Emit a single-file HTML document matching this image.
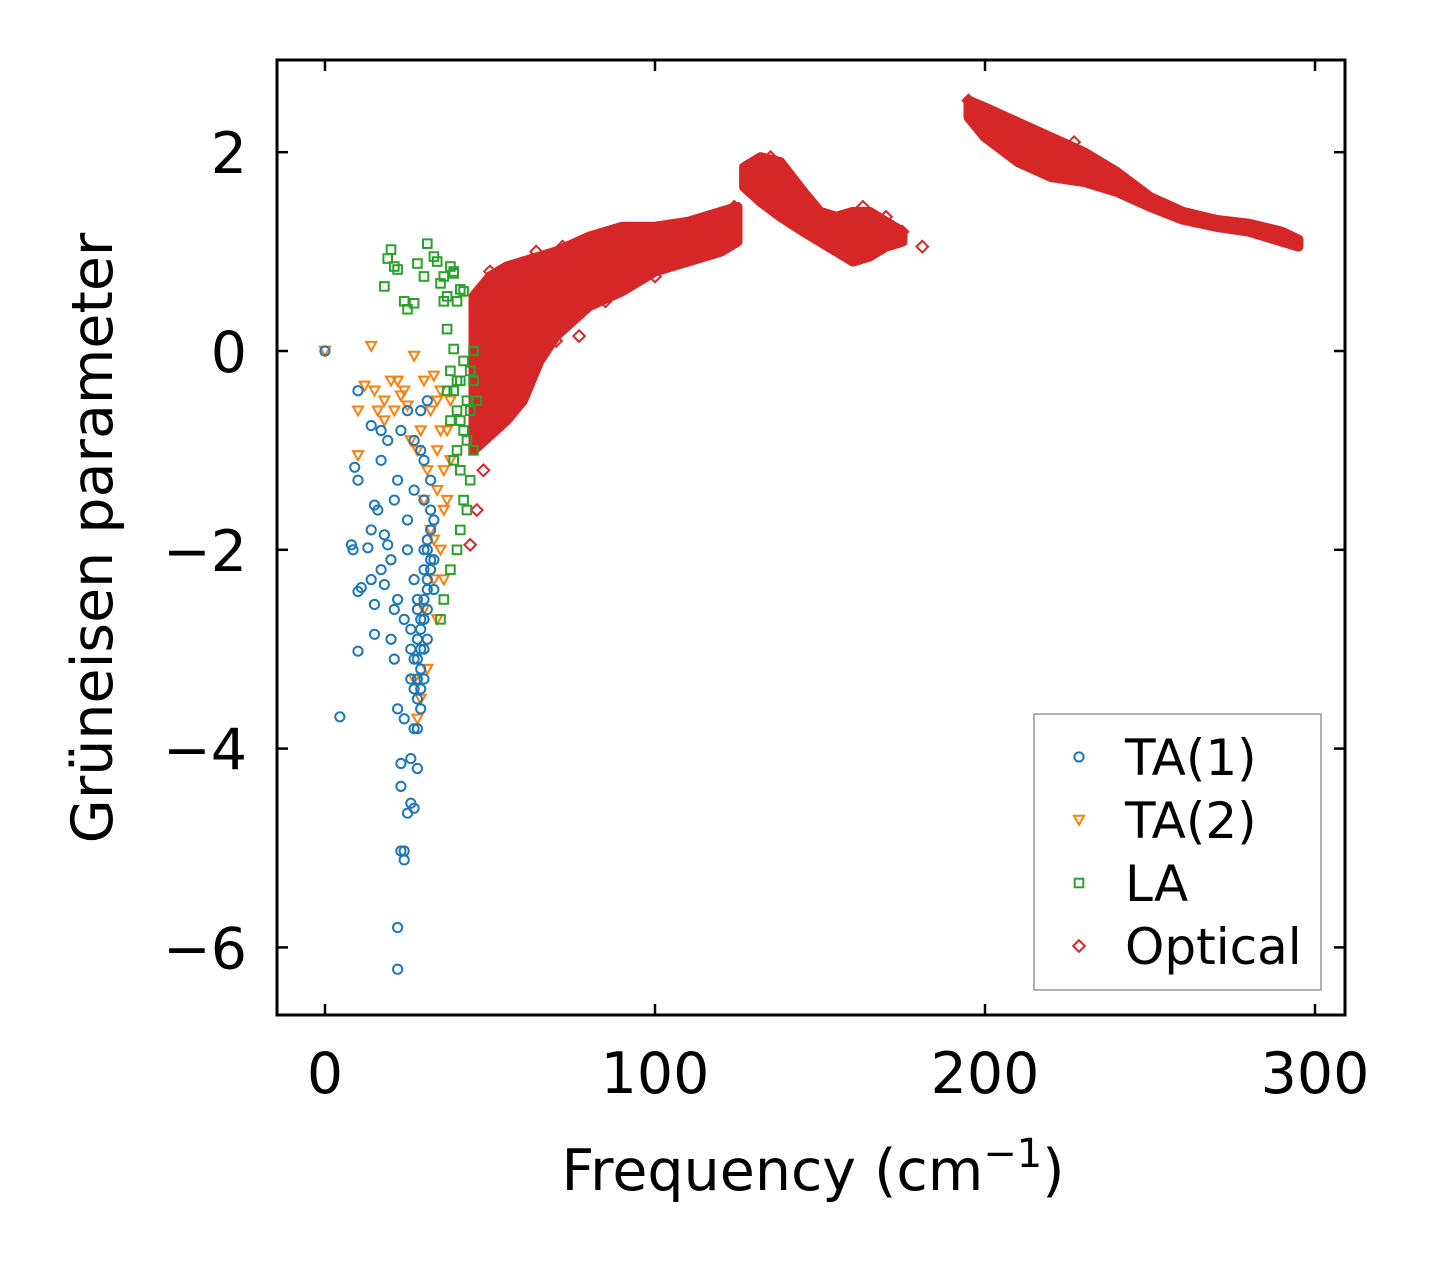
<!DOCTYPE html>
<html><head><meta charset="utf-8"><style>
html,body{margin:0;padding:0;background:#fff;}
svg text{font-family:"DejaVu Sans","Liberation Sans",sans-serif;fill:#000;}
</style></head><body>
<svg id="chart" width="1431" height="1264" xmlns="http://www.w3.org/2000/svg">
<rect width="1431" height="1264" fill="#fff"/>
<g id="bands"></g>
<g id="marks"></g>
<rect x="277" y="60" width="1068" height="955" fill="none" stroke="#000" stroke-width="3"/>
<g id="ticks"></g>
<text x="813" y="1190" font-size="57" text-anchor="middle">Frequency (cm<tspan dy="-23" font-size="40">−1</tspan><tspan dy="23">)</tspan></text>
<text transform="translate(112,538) rotate(-90)" font-size="57" text-anchor="middle">Grüneisen parameter</text>
<g>
<rect x="1034" y="714" width="287" height="276" fill="#fff" stroke="#999" stroke-width="1.5"/>
<g id="legend"></g>
</g>
</svg>
<script>
const xTicks=[0,100,200,300];
const yTicks=[2,0,-2,-4,-6];
const ta1F=[0,4.5,10,9,10,8,8.5,10,11,10,13,14,14,15,15,15,16,17,17,18,18,19,19,20,20,21,21,21,22,22,22,22,22,23,23,23,24,24,24,25,25,25,26,26,26,27,27,27,28,28,28,29,29,30,30,31,31,32,32,33,29,25,23,17,14,27,30,28,26,31,29,27,33,30,28,26,24,30,32,27,29,31,28,29,30,31,32,27,28,29,30,31,30,29,28,31,32,33];
const ta1G=[0,-3.68,-0.4,-1.17,-1.3,-1.95,-2.0,-2.42,-2.38,-3.02,-1.98,-1.8,-2.3,-1.55,-2.55,-2.85,-1.6,-1.1,-2.2,-1.85,-2.35,-1.95,-0.9,-2.1,-2.9,-1.5,-2.6,-3.1,-1.3,-2.5,-3.6,-5.8,-6.22,-4.15,-4.38,-5.03,-5.03,-5.12,-3.7,-4.65,-2.0,-1.7,-4.55,-4.1,-3.3,-4.6,-3.4,-2.3,-3.8,-4.2,-3.5,-3.2,-3.0,-2.7,-1.5,-2.4,-1.9,-2.2,-1.3,-1.7,-1.0,-0.6,-0.8,-0.8,-0.75,-0.9,-1.1,-2.6,-3.0,-2.9,-3.6,-3.8,-2.1,-3.3,-3.1,-2.8,-2.7,-2.0,-1.6,-1.4,-0.6,-0.5,-2.9,-2.7,-2.5,-2.3,-2.1,-3.1,-3.3,-3.4,-3.0,-2.6,-2.2,-2.8,-2.5,-2.0,-1.8,-2.4];
const ta2F=[0,14,27,12,15,18,10,16,20,23,25,22,10,18,26,30,33,35,28,31,34,36,32,35,33,30,31,29,28,27,34,36,37,38,34,35,29,24,21,32,36,33,37,38,30,34];
const ta2G=[0,0.05,-0.05,-0.35,-0.4,-0.5,-0.6,-0.6,-0.3,-0.45,-0.55,-0.3,-1.05,-0.7,-0.9,-0.3,-0.25,-0.4,-1.0,-1.2,-1.4,-1.6,-1.8,-2.0,-2.3,-2.6,-3.2,-3.5,-3.7,-3.3,-2.7,-1.2,-0.8,-0.5,-1.0,-0.8,-0.8,-0.4,-0.6,-0.6,-2.3,-1.9,-1.5,-1.1,-1.5,-0.5];
const laF=[20,21,19,18,22,24,25,28,27,30,31,33,34,36,35,37,38,39,40,41,42,37,39,36,38,39,40,41,42,43,44,45,39,40,41,42,43,41,40,38,36,35,44,45,43,42,38,39,44,46,45,40,41,37];
const laG=[1.02,0.85,0.93,0.65,0.82,0.5,0.42,0.88,0.48,0.75,1.08,0.95,0.9,0.75,0.68,0.55,0.85,0.8,0.5,0.62,0.6,0.22,0.78,0.5,-0.2,-0.4,-0.6,-0.3,-0.8,-0.5,-0.2,0.0,0.02,-1.0,-1.2,-1.5,-1.6,-1.8,-2.0,-2.2,-2.5,-2.7,-1.3,-1.0,-0.9,-0.1,-0.7,-1.1,-0.6,-0.5,-0.3,-0.3,-0.7,-0.4];
const optF=[46,44,48,52,58,50,64,60,72,88,106,117,124,181,175,170,135,163,195,227,294,270,245,70,65,55,85,100,77,47];
const optG=[-1.6,-1.95,-1.2,-0.7,-0.55,0.8,1.0,0.8,1.05,1.2,1.2,1.3,1.45,1.05,1.2,1.35,1.95,1.45,2.52,2.1,1.08,1.3,1.6,0.1,0.0,-0.3,0.5,0.75,0.15,0.3];
const band1F=[45,50,55,60,65,70,80,90,100,110,120,125];
const band1U=[0.55,0.75,0.85,0.9,0.95,1.0,1.15,1.25,1.25,1.3,1.4,1.45];
const band1L=[-1.0,-0.85,-0.7,-0.5,-0.1,0.15,0.45,0.6,0.8,0.9,1.0,1.1];
const band2F=[127,132,138,145,150,155,160,165,170,175];
const band2U=[1.85,1.95,1.9,1.6,1.4,1.35,1.4,1.4,1.3,1.2];
const band2L=[1.65,1.5,1.35,1.2,1.1,1.0,0.9,0.95,1.05,1.1];
const band3F=[195,200,210,220,230,240,250,260,270,280,290,295];
const band3U=[2.52,2.45,2.3,2.15,2.0,1.8,1.55,1.4,1.32,1.28,1.2,1.12];
const band3L=[2.35,2.15,1.9,1.75,1.7,1.6,1.45,1.32,1.25,1.2,1.1,1.05];

const NS="http://www.w3.org/2000/svg";
const sx=v=>325+v*3.3;
const sy=v=>351-v*99.4;
const C={b:"#1f77b4",o:"#ff7f0e",g:"#2ca02c",r:"#d62728"};
function mk(tag,at){const e=document.createElementNS(NS,tag);for(const k in at)e.setAttribute(k,at[k]);return e;}
function marker(type,x,y,col){
  let e;
  if(type==="circle"){e=mk("circle",{cx:x,cy:y,r:4.6});}
  else if(type==="tri"){e=mk("polygon",{points:`${x-5},${y-4.2} ${x+5},${y-4.2} ${x},${y+4.8}`});}
  else if(type==="square"){e=mk("rect",{x:x-4.3,y:y-4.3,width:8.6,height:8.6});}
  else {e=mk("polygon",{points:`${x},${y-5.8} ${x+5.8},${y} ${x},${y+5.8} ${x-5.8},${y}`});}
  e.setAttribute("fill","none");e.setAttribute("stroke",col);e.setAttribute("stroke-width","2");
  return e;
}
const bands=document.getElementById("bands");
[[band1F,band1U,band1L],[band2F,band2U,band2L],[band3F,band3U,band3L]].forEach((b,i)=>{
  const pts=[];
  b[0].forEach((f,j)=>pts.push(sx(f)+","+sy(b[1][j])));
  for(let j=b[0].length-1;j>=0;j--)pts.push(sx(b[0][j])+","+sy(b[2][j]));
  const p=mk("polygon",{points:pts.join(" "),fill:C.r,stroke:C.r,"stroke-width":10,"stroke-linejoin":"round"});
  
  
  bands.appendChild(p);
});
const marks=document.getElementById("marks");
function series(F,G,type,col,name){
  const g=mk("g",{});
  
  
  F.forEach((f,i)=>g.appendChild(marker(type,sx(f),sy(G[i]),col)));
  marks.appendChild(g);
}
series(optF,optG,"diamond",C.r,"series-optical");
series(ta2F,ta2G,"tri",C.o,"series-ta2");
series(laF,laG,"square",C.g,"series-la");
series(ta1F,ta1G,"circle",C.b,"series-ta1");

const ticks=document.getElementById("ticks");
xTicks.forEach(v=>{
  const x=sx(v);
  ticks.appendChild(mk("line",{x1:x,y1:1015,x2:x,y2:1004,stroke:"#000","stroke-width":2.5}));
  ticks.appendChild(mk("line",{x1:x,y1:60,x2:x,y2:71,stroke:"#000","stroke-width":2.5}));
  const t=mk("text",{x:x,y:1093,"font-size":57,"text-anchor":"middle"});
  
  
  t.textContent=v;ticks.appendChild(t);
});
yTicks.forEach(v=>{
  const y=sy(v);
  ticks.appendChild(mk("line",{x1:277,y1:y,x2:288,y2:y,stroke:"#000","stroke-width":2.5}));
  ticks.appendChild(mk("line",{x1:1345,y1:y,x2:1334,y2:y,stroke:"#000","stroke-width":2.5}));
  const t=mk("text",{x:247,y:y+21,"font-size":57,"text-anchor":"end"});
  
  
  t.textContent=v<0?"−"+(-v):v;ticks.appendChild(t);
});
const legend=document.getElementById("legend");
[["circle",C.b,"TA(1)"],["tri",C.o,"TA(2)"],["square",C.g,"LA"],["diamond",C.r,"Optical"]].forEach((e,i)=>{
  const y=757+i*63;
  const g=mk("g",{});
  
  
  g.appendChild(marker(e[0],1079,y,e[1]));
  const t=mk("text",{x:1125,y:y+18,"font-size":50});
  t.textContent=e[2];g.appendChild(t);
  legend.appendChild(g);
});
</script>
</body></html>
